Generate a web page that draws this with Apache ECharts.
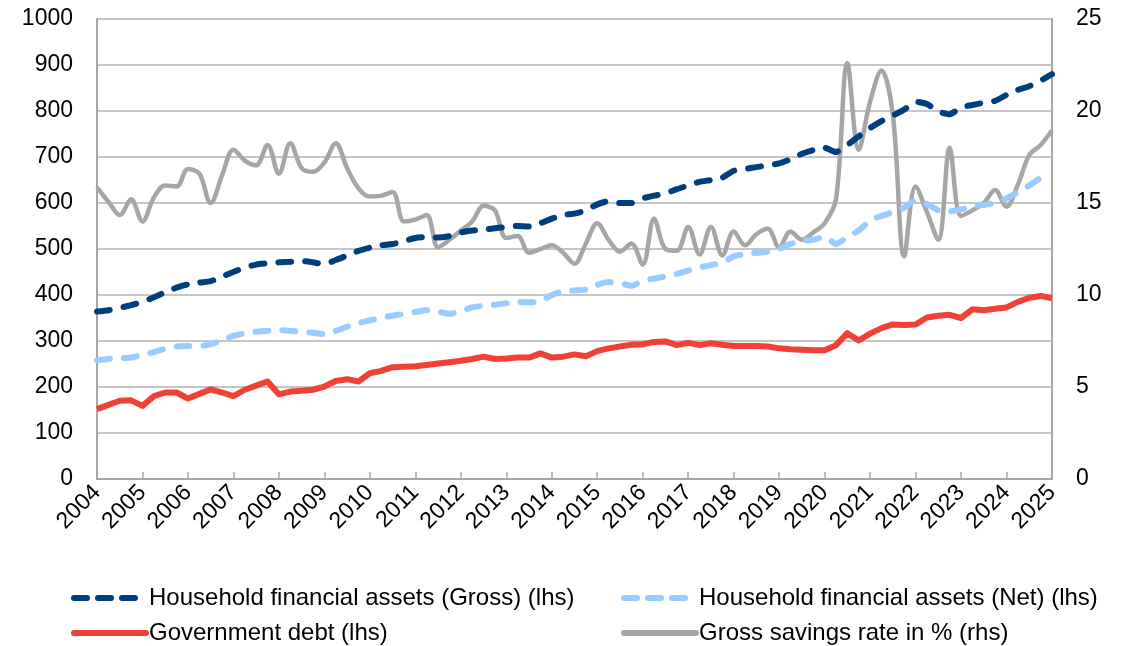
<!DOCTYPE html>
<html>
<head>
<meta charset="utf-8">
<script src="https://cdn.jsdelivr.net/npm/echarts@6/dist/echarts.min.js"></script>
<style>
html,body{margin:0;padding:0;background:#fff;}
#chart{width:1135px;height:646px;}
</style>
</head>
<body>
<div id="chart"></div>
<script>
var years = [2004,2005,2006,2007,2008,2009,2010,2011,2012,2013,2014,2015,2016,2017,2018,2019,2020,2021,2022,2023,2024,2025];
var quarterNames = ['Q1','Q2','Q3','Q4'];
var leftTicks = [0,100,200,300,400,500,600,700,800,900,1000];
var rightTicks = [0,5,10,15,20,25];

var seriesNames = [
  'Household financial assets (Gross) (lhs)',
  'Household financial assets (Net) (lhs)',
  'Government debt (lhs)',
  'Gross savings rate in % (rhs)'
];

var grossAssets = [
  364,367,372,378, 385,395,406,416, 423,427,430,440, 450,460,466,469,
  471,472,474,471, 467,476,486,496, 503,508,511,517, 524,526,525,528,
  536,540,542,545, 548,550,549,556, 566,574,577,584, 597,604,600,600,
  610,616,621,630, 638,646,650,655, 670,674,678,682, 686,695,707,715,
  720,711,726,745, 763,778,790,803, 820,815,799,793, 808,813,818,822,
  835,846,854,866, 880
];
var netAssets = [
  258,261,263,264, 270,276,283,288, 289,289,293,302, 311,317,320,322,
  324,322,320,318, 315,322,331,339, 345,351,355,359, 363,367,364,359,
  365,373,377,379, 382,385,384,386, 400,408,410,412, 422,428,426,420,
  431,436,440,446, 453,460,465,470, 484,489,492,494, 500,511,518,520,
  526,511,526,540, 562,572,580,590, 606,598,584,582, 586,593,596,600,
  610,623,638,655, null
];
var govDebt = [
  152,161,170,171, 159,180,188,188, 175,185,195,188, 180,194,203,212,
  184,190,192,194, 201,213,217,212, 230,235,243,244, 245,248,251,254,
  257,261,266,261, 262,264,264,273, 264,266,271,267, 278,284,288,292,
  293,298,299,291, 296,291,295,292, 289,289,289,288, 284,282,281,280,
  280,291,317,301, 316,328,336,335, 336,351,355,357, 350,369,367,370,
  373,385,394,398, 393
];
var savingsRate = [
  15.85,15.07,14.35,15.2, 14.0,15.3,15.95,15.9, 16.85,16.6,15.0,16.5, 17.9,17.3,17.05,18.15,
  16.6,18.25,16.9,16.7, 17.2,18.25,16.9,15.8, 15.35,15.4,15.6,14.0, 14.1,14.35,12.6,13.0,
  13.5,14.0,14.85,14.6, 13.1,13.2,12.3,12.5, 12.7,12.3,11.7,12.8, 13.9,13.0,12.35,12.8,
  11.65,14.15,12.5,12.4, 13.7,12.2,13.7,12.15, 13.45,12.7,13.3,13.6, 12.6,13.45,13.0,13.4,
  13.9,15.2,22.6,17.9, 20.5,22.2,19.8,12.1, 15.9,14.5,13.0,18.0, 14.3,14.6,15.0,15.7,
  14.8,16.0,17.6,18.15, 18.95
];

// quarterly categories: 2004 Q1 ... 2025 Q1
var categories = [];
years.forEach(function (y) {
  quarterNames.forEach(function (q) {
    if (y < 2025 || q === 'Q1') categories.push(y + ' ' + q);
  });
});

var FONT = '"Liberation Sans", Arial, sans-serif';
var colors = ['#003f7d', '#99ccff', '#ef4136', '#a6a6a6'];
var DASH = [13, 14];

var chart = echarts.init(document.getElementById('chart'), null, {renderer: 'canvas'});

function legendAt(idx, left, top) {
  var dashed = idx < 2;
  return {
    data: [seriesNames[idx]], left: left, top: top, orient: 'horizontal',
    itemWidth: 72, itemHeight: 14, itemGap: 0, padding: 0,
    selectedMode: false,
    itemStyle: {opacity: 0},
    lineStyle: {width: 6, color: colors[idx], type: dashed ? [13, 11] : 'solid', cap: 'round'},
    textStyle: {fontFamily: FONT, fontSize: 24, color: '#000', padding: [0, 0, 0, -2]}
  };
}

var option = {
  animation: false,
  backgroundColor: '#ffffff',
  grid: {left: 97, right: 83, top: 19, bottom: 167, containLabel: false},
  legend: [
    legendAt(0, 71, 586),
    legendAt(1, 621, 586),
    legendAt(2, 71, 621),
    legendAt(3, 621, 621)
  ],
  xAxis: {
    type: 'category',
    data: categories,
    boundaryGap: false,
    axisLine: {show: true, lineStyle: {color: '#a6a6a6', width: 2}},
    axisTick: {show: true, inside: true, length: 7, interval: 3, lineStyle: {color: '#a6a6a6', width: 1.5}},
    axisLabel: {
      interval: 3, rotate: 45, margin: 10,
      fontFamily: FONT, fontSize: 23, color: '#000',
      formatter: function (v) { return v.split(' ')[0]; }
    },
    splitLine: {show: false}
  },
  yAxis: [
    {
      type: 'value', min: leftTicks[0], max: leftTicks[leftTicks.length - 1], interval: 100,
      axisLine: {show: true, lineStyle: {color: '#a6a6a6', width: 2}},
      axisTick: {show: false},
      axisLabel: {fontFamily: FONT, fontSize: 23, color: '#000', margin: 24,
        formatter: function (v) { return String(v); }},
      splitLine: {show: true, lineStyle: {color: '#b3b3b3', width: 1.5}}
    },
    {
      type: 'value', min: rightTicks[0], max: rightTicks[rightTicks.length - 1], interval: 5,
      position: 'right',
      axisLine: {show: true, lineStyle: {color: '#a6a6a6', width: 2}},
      axisTick: {show: false},
      axisLabel: {fontFamily: FONT, fontSize: 23, color: '#000', margin: 24,
        formatter: function (v) { return String(v); }},
      splitLine: {show: false}
    }
  ],
  series: [
    {
      name: seriesNames[0], type: 'line', yAxisIndex: 0, data: grossAssets,
      symbol: 'none', smooth: 0.2, z: 4,
      lineStyle: {color: colors[0], width: 6, type: DASH, cap: 'round', join: 'round'},
      itemStyle: {color: colors[0]}
    },
    {
      name: seriesNames[1], type: 'line', yAxisIndex: 0, data: netAssets,
      symbol: 'none', smooth: 0.2, z: 3,
      lineStyle: {color: colors[1], width: 6, type: DASH, cap: 'round', join: 'round'},
      itemStyle: {color: colors[1]}
    },
    {
      name: seriesNames[2], type: 'line', yAxisIndex: 0, data: govDebt,
      symbol: 'none', smooth: false, z: 5,
      lineStyle: {color: colors[2], width: 6, join: 'round'},
      itemStyle: {color: colors[2]}
    },
    {
      name: seriesNames[3], type: 'line', yAxisIndex: 1, data: savingsRate,
      symbol: 'none', smooth: 0.35, z: 2,
      lineStyle: {color: colors[3], width: 4.5, join: 'round'},
      itemStyle: {color: colors[3]}
    }
  ]
};
chart.setOption(option);
</script>
</body>
</html>
